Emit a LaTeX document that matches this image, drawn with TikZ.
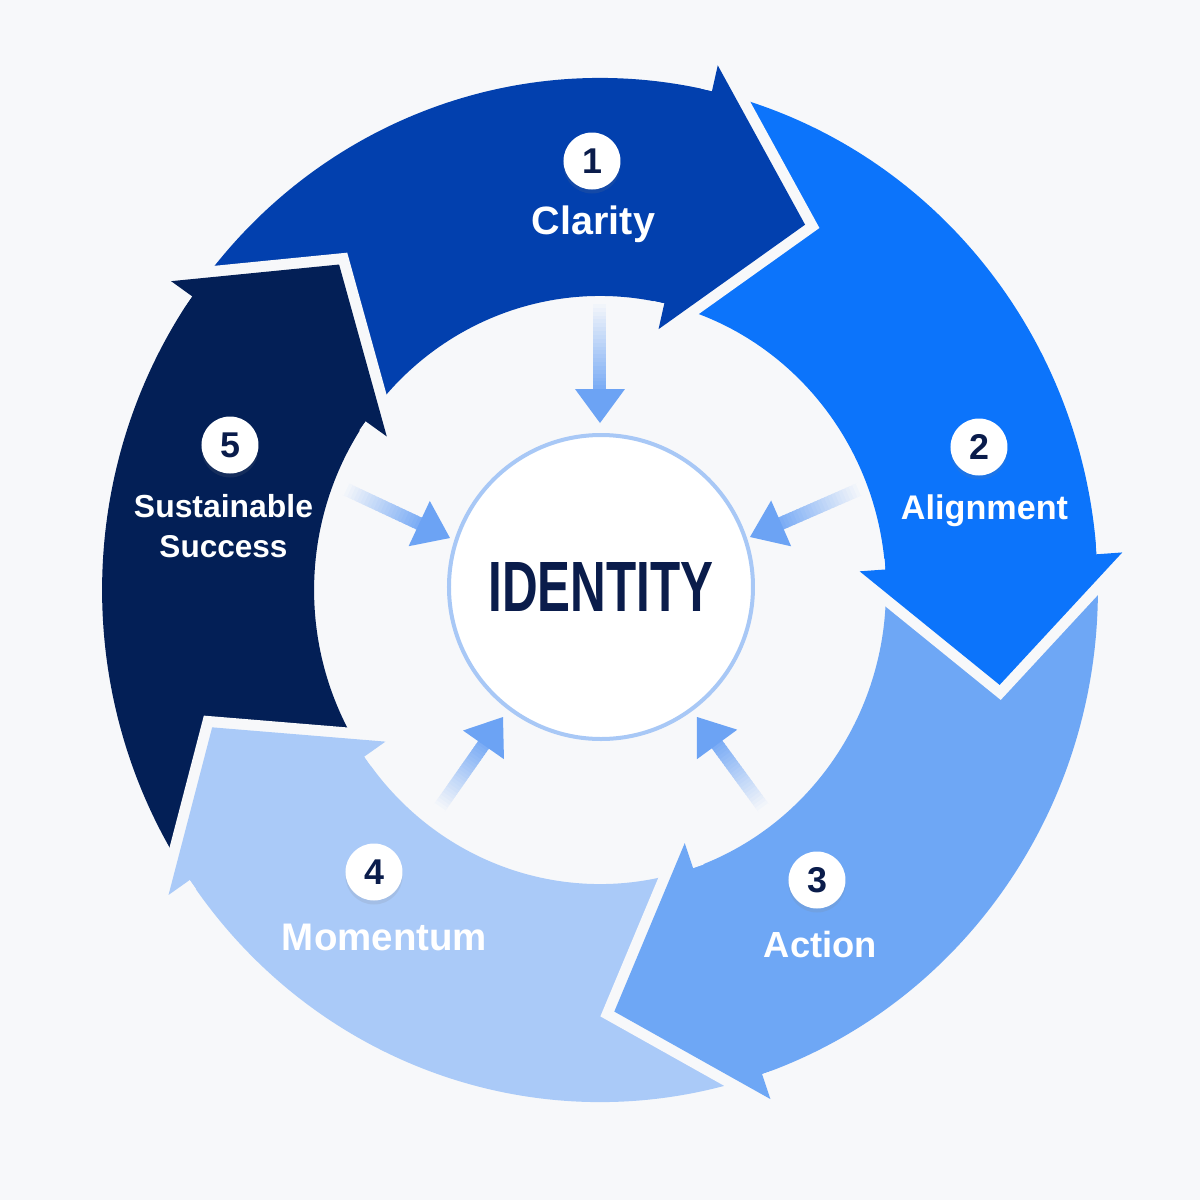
\documentclass[tikz,border=0pt]{standalone}
\usepackage{fontspec}
\setmainfont{Liberation Sans}[Ligatures=NoCommon]
\usetikzlibrary{calc,shadows}
\definecolor{bgc}{RGB}{247,248,250}
\definecolor{cone}{RGB}{2,64,174}
\definecolor{ctwo}{RGB}{12,116,251}
\definecolor{cthree}{RGB}{110,167,245}
\definecolor{cfour}{RGB}{170,202,248}
\definecolor{cfive}{RGB}{3,31,86}
\definecolor{navy}{RGB}{10,28,75}
\definecolor{ringline}{RGB}{168,200,246}
\definecolor{inarr}{RGB}{108,163,244}
\newcommand\RingOut{5.05}
\newcommand\RingIn{2.90}
\newcommand\segbody[3]{%
  \fill[#3] (#1:\RingOut) arc[start angle=#1, end angle=#2, radius=\RingOut]
    -- (#2:\RingIn) arc[start angle=#2, end angle=#1, radius=\RingIn] -- cycle;}
\newcommand\seghead[3]{%
  \draw[bgc, line width=2.2mm, line join=miter, miter limit=20]
    (#1:\RingOut) -- (#1:5.31) -- ({#1-#2}:4.16) -- (#1:2.64) -- (#1:\RingIn);
  \fill[#3] (#1:5.31) -- ({#1-#2}:4.16) -- (#1:2.64) -- cycle;}
\newcommand\inarrow[3]{%
  \begin{scope}[shift={(#1)}, rotate=#2]
    \foreach \i in {0,...,23} {
      \pgfmathsetmacro\pc{92*(1-\i/23)}
      \draw[inarr!\pc!bgc, line width=1.3mm]
        ({0.30+(#3-0.30)*\i/24},0) -- ({0.30+(#3-0.30)*(\i+1.5)/24},0);
    }
    \fill[inarr] (0,0) -- (0.34,0.25) -- (0.34,-0.25) -- cycle;
  \end{scope}}
\tikzset{
  numc/.style={circle, fill=white, minimum size=5.7mm, inner sep=0pt, text=navy,
    font=\fontsize{10.2}{12}\selectfont\bfseries,
    drop shadow={opacity=0.15, shadow xshift=0mm, shadow yshift=-0.4mm}},
  lbl/.style={text=white, inner sep=0pt, font=\fontsize{10.2}{11.4}\selectfont\bfseries},
  core/.style={circle, draw=ringline, line width=0.4mm, fill=white,
    minimum size=3.04cm, inner sep=0pt, text=navy, font=\fontsize{20}{24}\selectfont\bfseries}
}
\begin{document}
\begin{tikzpicture}
\useasboundingbox (-6,-6) rectangle (6,6);
\fill[bgc] (-6,-6) rectangle (6,6);
\begin{scope}[shift={(0,0.10)}, xscale=0.986, yscale=1.014]
  \segbody{144.5}{76.5}{cone}
  \segbody{76.5}{3.5}{ctwo}
  \segbody{3.5}{-71.5}{cthree}
  \segbody{-71.5}{-146}{cfour}
  \segbody{214}{144.5}{cfive}
  \seghead{77}{17}{cone}
  \seghead{4}{17}{ctwo}
  \seghead{-71}{17}{cthree}
  \seghead{-145.5}{15.5}{cfour}
  \seghead{145}{15.5}{cfive}
\end{scope}
% inner arrows
\inarrow{0,1.77}{90}{1.23}
\inarrow{1.50,0.63}{23.6}{1.22}
\inarrow{-1.50,0.62}{154.9}{1.18}
\inarrow{-0.97,-1.17}{235.0}{1.13}
\inarrow{0.97,-1.17}{306.2}{1.15}
% core
\node[core] (core) at (0.01,0.13) {\resizebox{2.25cm}{0.49cm}{IDENTITY}};
% numbers
\node[numc] (n1) at (-0.08,4.39) {1};
\node[numc] (n2) at (3.79,1.53) {2};
\node[numc] (n3) at (2.17,-2.80) {3};
\node[numc] (n4) at (-2.26,-2.72) {4};
\node[numc] (n5) at (-3.70,1.55) {5};
% labels
\node[lbl, anchor=base] (l1) at (-0.065,3.66) {\resizebox{1.23cm}{!}{Clarity}};
\node[lbl, anchor=base] (l2) at (3.845,0.81) {\resizebox{1.67cm}{!}{Alignment}};
\node[lbl, anchor=base] (l3) at (2.205,-3.57) {\resizebox{1.13cm}{!}{Action}};
\node[lbl, anchor=base] (l4) at (-2.155,-3.50) {\resizebox{2.05cm}{!}{Momentum}};
\node[lbl, align=center] (l5) at (-3.765,0.74) {\resizebox{1.79cm}{!}{Sustainable}\\\resizebox{1.28cm}{!}{Success}};
\end{tikzpicture}
\end{document}
